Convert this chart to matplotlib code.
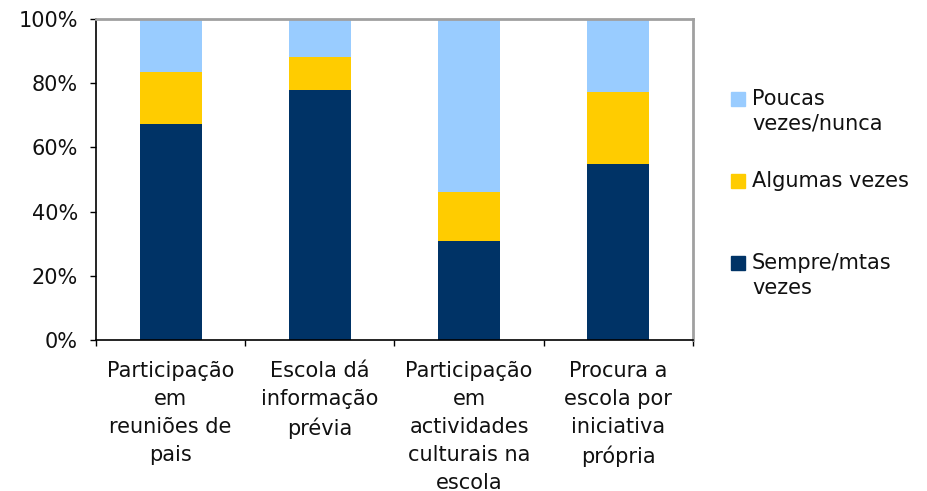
import matplotlib
matplotlib.use("Agg")
import matplotlib.pyplot as plt
import numpy as np
from matplotlib.patches import Rectangle

categories = ["Participação\nem\nreuniões de\npais",
              "Escola dá\ninformação\nprévia",
              "Participação\nem\nactividades\nculturais na\nescola",
              "Procura a\nescola por\niniciativa\nprópria"]
sempre = [67.3, 77.9, 30.8, 54.8]
algumas = [16.3, 10.3, 15.4, 22.5]
poucas = [16.4, 11.8, 53.8, 22.7]
series_names = ["Sempre/mtas\nvezes", "Algumas vezes", "Poucas\nvezes/nunca"]
colors = ["#003366", "#FFCC00", "#99CCFF"]
yticks = [0, 20, 40, 60, 80, 100]
ytick_labels = ["0%", "20%", "40%", "60%", "80%", "100%"]

plt.rcParams['font.family'] = ['DejaVu Sans']
fs = 15

fig = plt.figure(figsize=(9.28, 4.91), dpi=100)
ax = fig.add_axes([96/928, 1-340/491, (693-96)/928, (340-19)/491])

x = np.arange(len(categories))
w = 0.415
bottom = np.zeros(len(categories))
for vals, c in zip([sempre, algumas, poucas], colors):
    ax.bar(x, vals, w, bottom=bottom, color=c, edgecolor='none')
    bottom += np.array(vals)

ax.set_xlim(-0.5, len(categories) - 0.5)
ax.set_ylim(0, 100)
ax.set_yticks(yticks)
ax.set_yticklabels(ytick_labels, fontsize=fs, color='#111111')
ax.set_xticks(x)
ax.set_xticklabels(categories, fontsize=fs, linespacing=1.5, va='top', color='#111111')
ax.set_xticks(np.arange(-0.5, len(categories)), minor=True)
ax.tick_params(axis='x', which='major', length=0, pad=15)
ax.tick_params(axis='x', which='minor', length=4, width=1, direction='out', color='black')
ax.tick_params(axis='y', length=4, width=1, direction='out', pad=9, color='black')

for s in ['left', 'bottom']:
    ax.spines[s].set_color('black')
    ax.spines[s].set_linewidth(1.2)
for s in ['top', 'right']:
    ax.spines[s].set_color('#A0A0A0')
    ax.spines[s].set_linewidth(2)

# legend (manual layout)
leg_items = [(2, 99), (1, 181), (0, 263)]
for idx, yc in leg_items:
    fig.patches.append(Rectangle((731/928, 1-(yc+7)/491), 14/928, 14/491,
                                 transform=fig.transFigure, color=colors[idx]))
    fig.text(752/928, 1-(yc-10)/491, series_names[idx], fontsize=fs, va='top',
             ha='left', linespacing=1.3, color='#111111')

fig.savefig("out.png", dpi=100)
